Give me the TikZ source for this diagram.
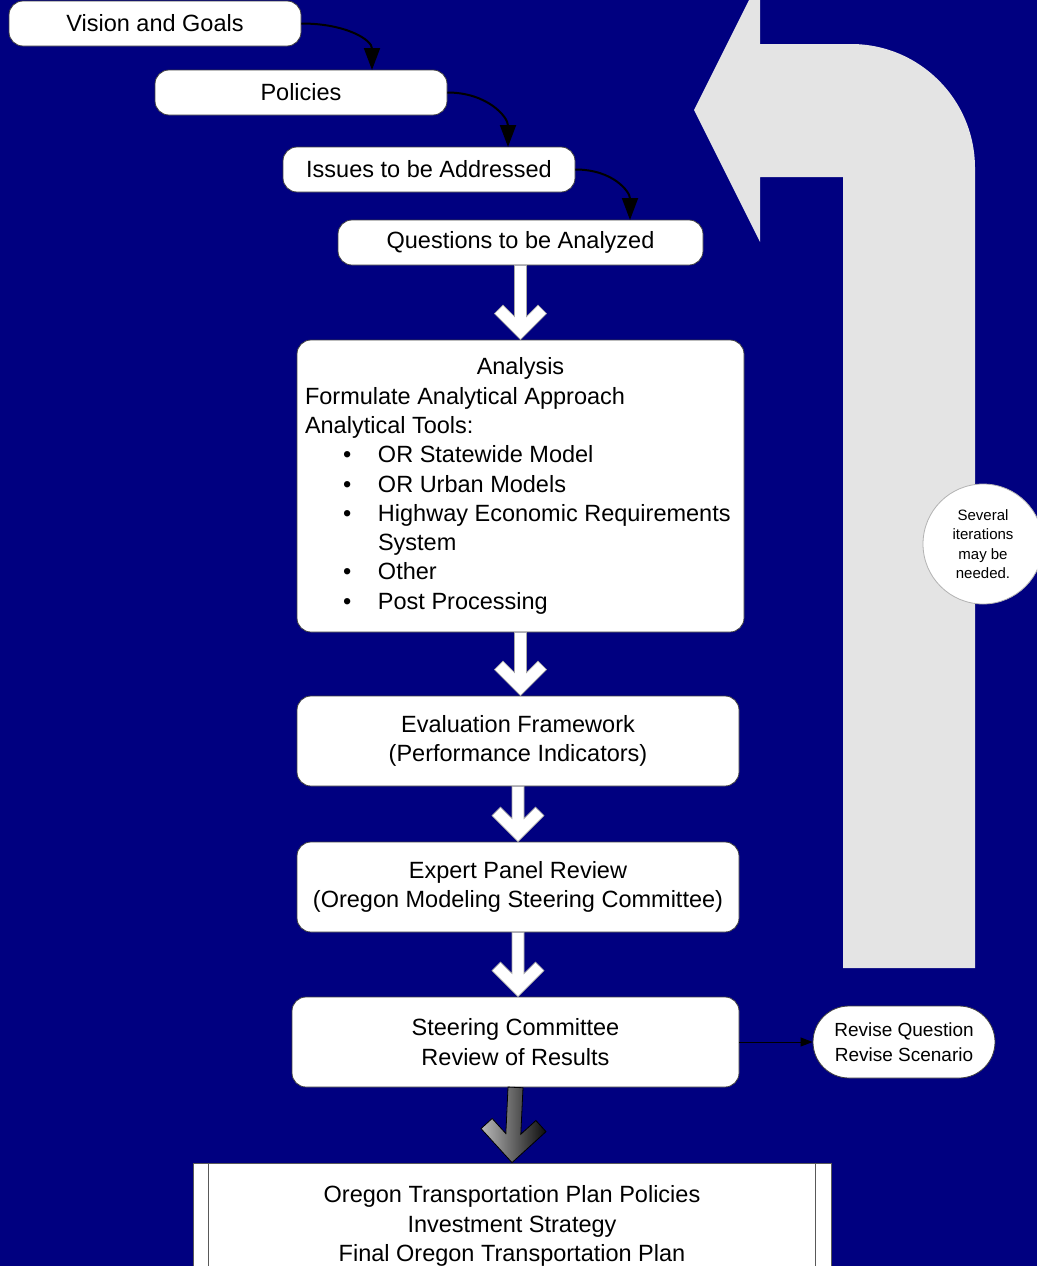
\documentclass[tikz,border=0pt]{standalone}
\usepackage{fontspec}
\setmainfont{Liberation Sans}
\usetikzlibrary{arrows.meta,calc,shapes.geometric}
\definecolor{navybg}{RGB}{0,0,128}
\definecolor{arrowgrey}{RGB}{228,228,228}
\newcommand\mainsize{\fontsize{23.5}{29.3}\selectfont}
\newcommand\revsize{\fontsize{19}{25}\selectfont}
\newcommand\circsize{\fontsize{15}{19.5}\selectfont}
\newcommand\bul{\hspace*{38pt}\makebox[35pt][l]{•}}
\begin{document}
\begin{tikzpicture}[x=1pt,y=-1pt,
  box/.style={draw=black!75, fill=white, line width=0.8pt, rounded corners=14pt,
    font=\mainsize, inner sep=0pt, align=center},
  curvearrow/.style={line width=2pt, -{Triangle[length=22pt,width=16pt]}},
  thinarrow/.style={line width=1pt, -{Triangle[length=12pt,width=9pt]}},
  whitearrow/.style={fill=white, draw=gray!70, line width=0.6pt,
    to path={($(\tikztostart)!6pt!-90:(\tikztotarget)$) -- ($(\tikztotarget)!23.8pt!14.6:(\tikztostart)$) -- ($(\tikztotarget)!38.7pt!26.9:(\tikztostart)$) -- ($(\tikztotarget)!36.8pt!45:(\tikztostart)$) -- (\tikztotarget) -- ($(\tikztotarget)!36.8pt!-45:(\tikztostart)$) -- ($(\tikztotarget)!38.7pt!-26.9:(\tikztostart)$) -- ($(\tikztotarget)!23.8pt!-14.6:(\tikztostart)$) -- ($(\tikztostart)!6pt!90:(\tikztotarget)$) -- cycle}},
  darkarrow/.style={left color=gray!55, right color=black!95, draw=black, line width=0.8pt,
    to path={($(\tikztostart)!7.5pt!-90:(\tikztotarget)$) -- ($(\tikztotarget)!29.7pt!14.6:(\tikztostart)$) -- ($(\tikztotarget)!48.4pt!26.9:(\tikztostart)$) -- ($(\tikztotarget)!46pt!45:(\tikztostart)$) -- (\tikztotarget) -- ($(\tikztotarget)!46pt!-45:(\tikztostart)$) -- ($(\tikztotarget)!48.4pt!-26.9:(\tikztostart)$) -- ($(\tikztotarget)!29.7pt!-14.6:(\tikztostart)$) -- ($(\tikztostart)!7.5pt!90:(\tikztotarget)$) -- cycle}}
]
\useasboundingbox (0,0) rectangle (1037,1266);
\clip (0,0) rectangle (1037,1266);
\fill[navybg] (0,0) rectangle (1037,1266);

% big grey return arrow
\fill[arrowgrey] (843,968) -- (843,177) -- (760,177) -- (760,242) -- (694,110) -- (760,-22)
  -- (760,44) -- (851,44) .. controls (919.5,44) and (975,99.5) .. (975,168) -- (975,968) -- cycle;

% nodes
\node[box, minimum width=292pt, minimum height=45pt] (vision) at (155,23.5) {Vision and Goals};
\node[box, minimum width=292pt, minimum height=45pt] (policies) at (301,92.5) {Policies};
\node[box, minimum width=292pt, minimum height=45pt] (issues) at (429,169.5) {Issues to be Addressed};
\node[box, minimum width=365pt, minimum height=45pt] (questions) at (520.5,242.5) {Questions to be Analyzed};

\node[box, align=none, text width=431pt, minimum width=447pt, minimum height=292pt] (analysis) at (520.5,486)
{\parindent=0pt{\centering Analysis\par}%
{\raggedright Formulate Analytical Approach\par
Analytical Tools:\par
\bul OR Statewide Model\par
\bul OR Urban Models\par
\bul Highway Economic Requirements\par
\hspace*{73pt}System\par
\bul Other\par
\bul Post Processing\par}};

\node[box, minimum width=442pt, minimum height=90pt] (evaluation) at (518,741)
  {Evaluation Framework\\(Performance Indicators)};
\node[box, minimum width=442pt, minimum height=90pt] (expert) at (518,887)
  {Expert Panel Review\\(Oregon Modeling Steering Committee)};
\node[box, minimum width=447pt, minimum height=90pt] (steering) at (515.5,1042)
  {Steering Committee\\Review of Results};
\node[box, font=\revsize, rounded corners=36pt, minimum width=182pt, minimum height=72pt] (revise) at (904,1042)
  {Revise Question\\Revise Scenario};
\node[box, rounded corners=0pt, draw=black!65, minimum width=638pt, minimum height=126pt] (final) at (512,1226)
  {Oregon Transportation Plan Policies\\Investment Strategy\\Final Oregon Transportation Plan};
\draw[black!65, line width=0.8pt] ($(final.north west)+(16,0)$) -- ($(final.south west)+(16,0)$);
\draw[black!65, line width=0.8pt] ($(final.north east)+(-16,0)$) -- ($(final.south east)+(-16,0)$);

\node[circle, draw=gray!60, fill=white, line width=0.8pt, minimum size=120pt, inner sep=0pt,
  font=\circsize, align=center] (iter) at (983,544) {Several\\iterations\\may be\\needed.};

% curved connectors
\coordinate (t1) at (372,70);
\coordinate (t2) at (508,147);
\coordinate (t3) at (630,220);
\draw[curvearrow] (vision.east) .. controls +(45,0) and +(0,-30) .. (t1);
\draw[curvearrow] (policies.east) .. controls +(40,0) and +(0,-30) .. (t2);
\draw[curvearrow] (issues.east) .. controls +(38,0) and +(0,-28) .. (t3);

% block arrows
\draw[whitearrow] (questions.south) to (analysis.north);
\draw[whitearrow] (analysis.south) to (analysis.south |- evaluation.north);
\draw[whitearrow] (evaluation.south) to (expert.north);
\draw[whitearrow] (expert.south) to (expert.south |- steering.north);
\draw[darkarrow] (steering.south) to (final.north);

\draw[thinarrow] (steering.east) -- (revise.west);
\end{tikzpicture}
\end{document}
